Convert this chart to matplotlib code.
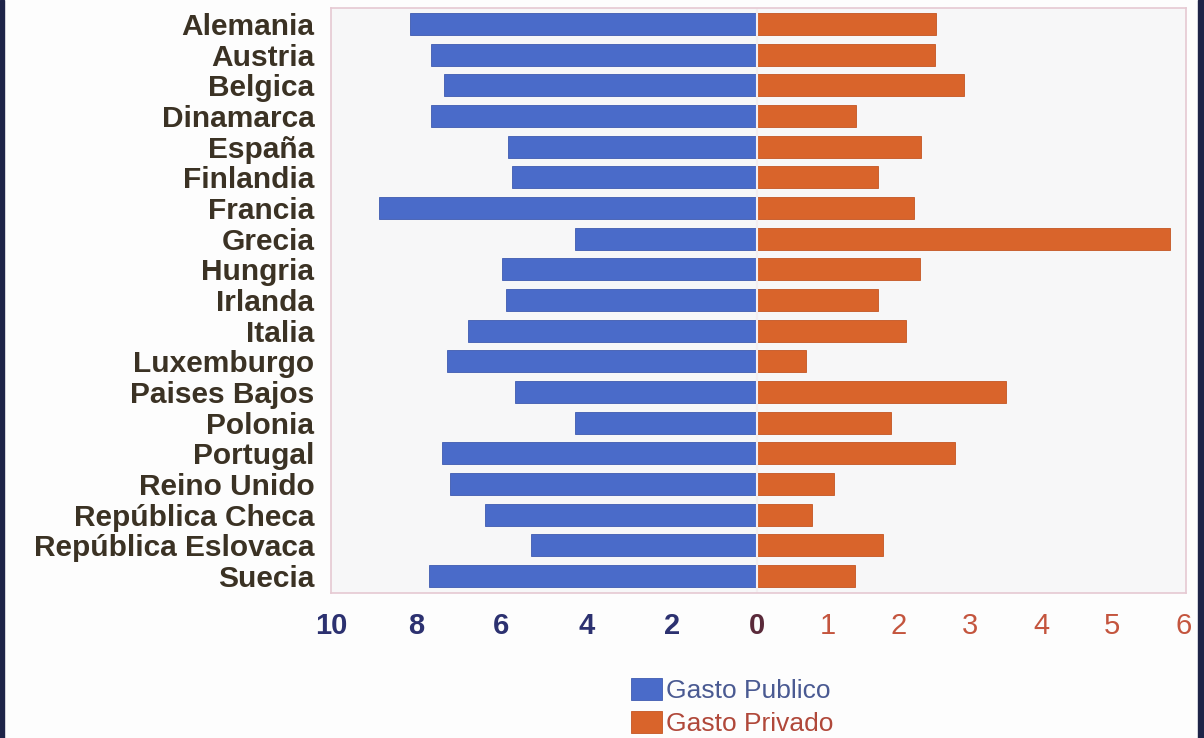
import matplotlib.pyplot as plt
from matplotlib.patches import Rectangle

# data
paises = ['Alemania', 'Austria', 'Belgica', 'Dinamarca', 'España', 'Finlandia',
          'Francia', 'Grecia', 'Hungria', 'Irlanda', 'Italia', 'Luxemburgo',
          'Paises Bajos', 'Polonia', 'Portugal', 'Reino Unido',
          'República Checa', 'República Eslovaca', 'Suecia']
gasto_publico = [8.15, 7.65, 7.35, 7.65, 5.85, 5.76, 8.88, 4.27, 5.98, 5.89,
                 6.79, 7.28, 5.68, 4.28, 7.39, 7.21, 6.38, 5.31, 7.70]
gasto_privado = [2.52, 2.51, 2.92, 1.40, 2.31, 1.70, 2.21, 5.82, 2.30, 1.70,
                 2.10, 0.69, 3.50, 1.89, 2.79, 1.08, 0.77, 1.78, 1.38]
ticks_publico = [10, 8, 6, 4, 2]
ticks_privado = [0, 1, 2, 3, 4, 5, 6]

# left side (0-10) is drawn on the same width as the right side (0-6)
escala = 6 / 10

azul = '#4a6bc9'
naranja = '#d9642b'

fig = plt.figure(figsize=(12.04, 7.38), dpi=100, facecolor='#fdfdfd')
ax = fig.add_axes([331 / 1204, 1 - 593 / 738, 855 / 1204, 585 / 738])
ax.set_facecolor('#f7f7f8')

y = list(range(len(paises)))
ax.barh(y, [-v * escala for v in gasto_publico], height=0.72, color=azul,
        edgecolor='#3f5bb0', linewidth=0.6, label='Gasto Publico')
ax.barh(y, gasto_privado, height=0.72, color=naranja,
        edgecolor='#c45522', linewidth=0.6, label='Gasto Privado')
ax.axvline(0, color='#f4eef0', lw=1.5)

ax.set_xlim(-6.0, 6.04)
ax.set_ylim(len(paises) - 0.45, -0.52)

ax.set_yticks(y)
ax.set_yticklabels(paises, fontsize=21.5, fontweight='bold', color='#3b3224',
                   family='Liberation Sans')
ax.tick_params(axis='y', length=0, pad=12)

pos = [-t * escala for t in ticks_publico] + ticks_privado
etiquetas = [str(t) for t in ticks_publico] + [str(t) for t in ticks_privado]
ax.set_xticks(pos)
ax.set_xticklabels(etiquetas, fontsize=21, family='Liberation Sans')
ax.tick_params(axis='x', length=0, pad=14)
for i, lab in enumerate(ax.get_xticklabels()):
    if i < len(ticks_publico):
        lab.set_color('#2c3170')
        lab.set_fontweight('bold')
    elif i == len(ticks_publico):
        lab.set_color('#5a2a3a')
        lab.set_fontweight('bold')
    else:
        lab.set_color('#c4553e')

for s in ax.spines.values():
    s.set_color('#e6c9d2')
    s.set_linewidth(1.2)

leg = fig.legend(loc='upper center', bbox_to_anchor=(732 / 1204, 1 - 662 / 738),
                 frameon=False, handlelength=1.2, handleheight=0.9,
                 handletextpad=0.15, labelspacing=0.3, borderpad=0.1,
                 prop={'family': 'Liberation Sans', 'size': 19})
leg.get_texts()[0].set_color('#4a5a92')
leg.get_texts()[1].set_color('#b0483a')

# dark frame at the picture edges
fig.patches.append(Rectangle((0, 0), 4 / 1204, 1, transform=fig.transFigure,
                             color='#1e2448', zorder=10))
fig.patches.append(Rectangle((1 - 6 / 1204, 0), 6 / 1204, 1, transform=fig.transFigure,
                             color='#1e2448', zorder=10))

fig.savefig('out.png', dpi=100, facecolor=fig.get_facecolor())
